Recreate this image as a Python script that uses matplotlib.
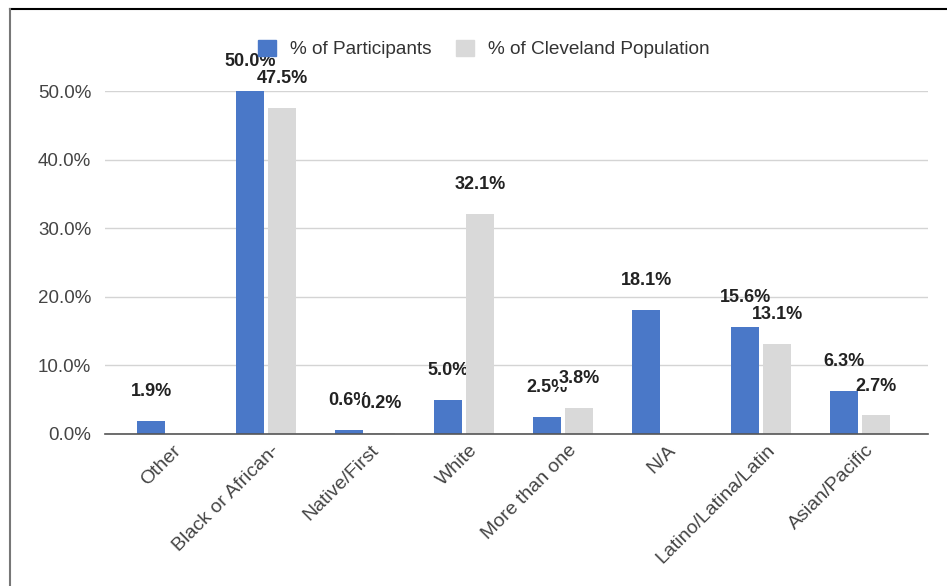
import numpy as np
import matplotlib.pyplot as plt
import matplotlib.transforms as mtransforms
from matplotlib.lines import Line2D
from matplotlib.patches import Rectangle

plt.rcParams['font.family'] = ['Liberation Sans', 'DejaVu Sans']

categories = ['Other', 'Black or African-', 'Native/First', 'White', 'More than one',
              'N/A', 'Latino/Latina/Latin', 'Asian/Pacific']
participants = [1.9, 50.0, 0.6, 5.0, 2.5, 18.1, 15.6, 6.3]
population = [np.nan, 47.5, 0.2, 32.1, 3.8, np.nan, 13.1, 2.7]
yticks = [0, 10, 20, 30, 40, 50]

blue = '#4a78c8'
grey = '#d9d9d9'

fig = plt.figure(figsize=(9.47, 5.86), dpi=100)
ax = fig.add_axes([0.111, 0.2594, 0.869, 0.5853])

x = np.arange(len(categories))
w = 0.285
off = 0.162
b1 = ax.bar(x - off, participants, w, color=blue, zorder=3)
b2 = ax.bar(x + off, population, w, color=grey, zorder=3)

# value labels above bars (grey labels sit over the blue ones, as in the original)
for xi, v in zip(x - off, participants):
    if not np.isnan(v):
        ax.annotate('%.1f%%' % v, (xi, v), xytext=(0, 21), textcoords='offset points',
                    ha='center', va='center', fontsize=13, fontweight='bold',
                    color='#222222', zorder=2, annotation_clip=False)
for xi, v in zip(x + off, population):
    if not np.isnan(v):
        ax.annotate('%.1f%%' % v, (xi, v), xytext=(0, 21), textcoords='offset points',
                    ha='center', va='center', fontsize=13, fontweight='bold',
                    color='#222222', zorder=2.5, annotation_clip=False,
                    bbox=dict(facecolor='white', edgecolor='none', pad=0))

ax.set_xlim(-0.626, 7.687)
ax.set_ylim(0, 50)
ax.set_yticks(yticks)
ax.set_yticklabels(['%.1f%%' % t for t in yticks], fontsize=13.5, color='#444444')
ax.yaxis.grid(True, color='#d4d4d4', linewidth=1, zorder=0)
ax.tick_params(axis='y', length=0, pad=10)
ax.tick_params(axis='x', length=0, pad=10)
ax.set_xticks(x)
ax.set_xticklabels(categories, rotation=45, ha='right', va='center',
                   rotation_mode='anchor', fontsize=14, color='#444444')
shift = mtransforms.ScaledTranslation(11 / 100, 0, fig.dpi_scale_trans)
for lab in ax.get_xticklabels():
    lab.set_transform(lab.get_transform() + shift)
for s in ['top', 'right', 'left']:
    ax.spines[s].set_visible(False)
ax.spines['bottom'].set_color('#555555')
ax.spines['bottom'].set_linewidth(1.2)
ax.spines['bottom'].set_zorder(4)

handles = [Rectangle((0, 0), 1, 1, color=blue), Rectangle((0, 0), 1, 1, color=grey)]
leg = fig.legend(handles, ['% of Participants', '% of Cleveland Population'],
                 loc='center', bbox_to_anchor=(484 / 947, 1 - 49 / 586), ncol=2,
                 frameon=False, fontsize=13.7, handlelength=0.95, handleheight=0.95,
                 handletextpad=0.74, columnspacing=1.3)
for t in leg.get_texts():
    t.set_color('#333333')

# frame lines
fig.add_artist(Line2D([10 / 947, 1], [1 - 9 / 586] * 2, color='black', linewidth=1.5))
fig.add_artist(Line2D([10 / 947] * 2, [0, 1 - 9 / 586], color='#777777', linewidth=1.5))

fig.savefig('out.png', dpi=100)
